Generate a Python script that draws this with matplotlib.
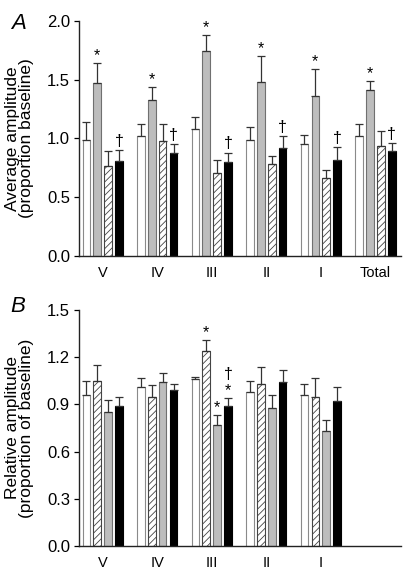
import numpy as np
import matplotlib
matplotlib.use('Agg')
import matplotlib.pyplot as plt

plt.rcParams['font.family'] = ['Liberation Sans', 'DejaVu Sans']
plt.rcParams['hatch.linewidth'] = 0.6

# panel A data (order: white, gray, hatched, black)
groups_a = ['V', 'IV', 'III', 'II', 'I', 'Total']
a_white = [0.99, 1.02, 1.08, 0.99, 0.95, 1.02]
a_white_se = [0.15, 0.10, 0.10, 0.11, 0.08, 0.10]
a_gray = [1.47, 1.33, 1.74, 1.48, 1.36, 1.41]
a_gray_se = [0.17, 0.11, 0.14, 0.22, 0.23, 0.08]
a_hatch = [0.77, 0.98, 0.71, 0.78, 0.66, 0.94]
a_hatch_se = [0.12, 0.14, 0.11, 0.07, 0.07, 0.12]
a_black = [0.81, 0.88, 0.80, 0.92, 0.82, 0.89]
a_black_se = [0.09, 0.07, 0.08, 0.10, 0.11, 0.07]

# panel B data (order: white, hatched, gray, black)
groups_b = ['V', 'IV', 'III', 'II', 'I']
b_white = [0.96, 1.01, 1.06, 0.98, 0.96]
b_white_se = [0.09, 0.06, 0.015, 0.07, 0.07]
b_hatch = [1.05, 0.95, 1.24, 1.03, 0.95]
b_hatch_se = [0.10, 0.07, 0.07, 0.11, 0.12]
b_gray = [0.85, 1.04, 0.77, 0.88, 0.73]
b_gray_se = [0.08, 0.06, 0.06, 0.08, 0.07]
b_black = [0.89, 0.99, 0.89, 1.04, 0.92]
b_black_se = [0.06, 0.04, 0.05, 0.08, 0.09]

styles = {
    'white': dict(color='white', edgecolor='#8a8a8a'),
    'gray': dict(color='#bdbdbd', edgecolor='#707070'),
    'hatch': dict(color='white', edgecolor='#444444', hatch='/////'),
    'black': dict(color='black', edgecolor='black'),
}

step = 0.2
w = 0.14


def draw(ax, groups, series, marks):
    x = np.arange(len(groups))
    tops = {}
    for j, (kind, vals, se) in enumerate(series):
        xs = x + (j - 1.5) * step
        ax.bar(xs, vals, w, linewidth=0.8, zorder=2, **styles[kind])
        ax.errorbar(xs, vals, yerr=[np.zeros(len(vals)), se], fmt='none',
                    ecolor='#333333', elinewidth=0.9, capsize=2.6,
                    capthick=0.9, zorder=3)
        tops[j] = (xs, np.array(vals) + np.array(se))
    for j, gi, sym, off in marks:
        xs, tp = tops[j]
        ax.text(xs[gi], tp[gi] + off, sym, ha='center', va='bottom',
                fontsize=11.5, color='black')
    ax.set_xticks(x)
    ax.set_xticklabels(groups, fontsize=10.5)
    ax.tick_params(axis='x', length=0, pad=7)
    ax.tick_params(axis='y', direction='out', length=3.5, width=0.9,
                   labelsize=12, pad=3)
    ax.set_xlim(-0.435, 5.47)
    for s in ['top', 'right']:
        ax.spines[s].set_visible(False)
    for s in ['left', 'bottom']:
        ax.spines[s].set_linewidth(1.0)
        ax.spines[s].set_color('#222222')


fig = plt.figure(figsize=(4.04, 5.72), dpi=100)
ax1 = fig.add_axes([0.1955, 0.5524, 0.797, 0.411])
ax2 = fig.add_axes([0.1955, 0.0455, 0.797, 0.4126])

marks_a = [(1, i, '*', 0.0) for i in range(6)] + \
          [(3, i, '\u2020', 0.01) for i in range(6)]
draw(ax1, groups_a, [('white', a_white, a_white_se), ('gray', a_gray, a_gray_se),
                     ('hatch', a_hatch, a_hatch_se), ('black', a_black, a_black_se)],
     marks_a)
ax1.set_ylim(0, 2.0)
ax1.set_yticks([0.0, 0.5, 1.0, 1.5, 2.0])
ax1.set_yticklabels(['0.0', '0.5', '1.0', '1.5', '2.0'])
ax1.set_ylabel('Average amplitude\n(proportion baseline)', fontsize=12.5,
               linespacing=0.95)
ax1.yaxis.set_label_coords(-0.14, 0.5)

marks_b = [(1, 2, '*', 0.0), (2, 2, '*', 0.0), (3, 2, '*', 0.0),
           (3, 2, '\u2020', 0.1)]
draw(ax2, groups_b, [('white', b_white, b_white_se), ('hatch', b_hatch, b_hatch_se),
                     ('gray', b_gray, b_gray_se), ('black', b_black, b_black_se)],
     marks_b)
ax2.set_ylim(0, 1.5)
ax2.set_yticks([0.0, 0.3, 0.6, 0.9, 1.2, 1.5])
ax2.set_yticklabels(['0.0', '0.3', '0.6', '0.9', '1.2', '1.5'])
ax2.set_ylabel('Relative amplitude\n(proportion of baseline)', fontsize=12.5,
               linespacing=0.95)
ax2.yaxis.set_label_coords(-0.14, 0.5)

fig.text(0.045, 0.977, 'A', fontsize=16, style='italic', va='top', ha='center')
fig.text(0.045, 0.483, 'B', fontsize=16, style='italic', va='top', ha='center')

fig.savefig('out.png', dpi=100)
